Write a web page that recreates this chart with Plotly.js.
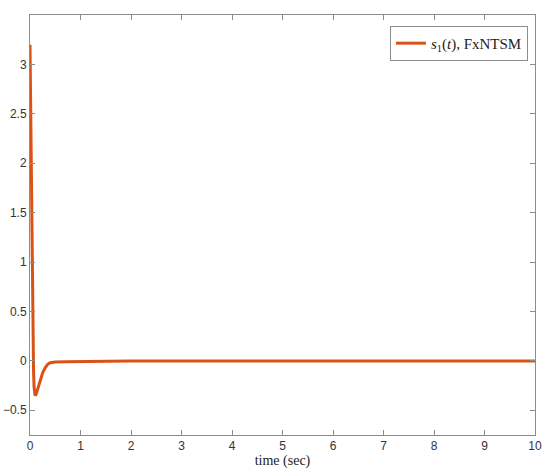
<!DOCTYPE html>
<html>
<head>
<script src="https://cdn.plot.ly/plotly-3.0.1.min.js"></script>
<style>body{margin:0;padding:0;background:#fff}#plot{width:550px;height:473px}</style>
</head>
<body>
<div id="plot"></div>
<script>
const time = [0, 0.01, 0.02, 0.03, 0.04, 0.05, 0.06, 0.07, 0.08, 0.09, 0.1, 0.12, 0.15, 0.2, 0.25, 0.3, 0.35, 0.4, 0.45, 0.5, 0.7, 1, 1.5, 2, 3, 5, 10];
const s1 = [3.2, 2.6, 2.0, 1.45, 0.95, 0.5, 0.15, -0.1, -0.26, -0.33, -0.35, -0.34, -0.29, -0.2, -0.12, -0.07, -0.035, -0.018, -0.014, -0.012, -0.008, -0.005, -0.003, -0.002, -0.001, 0, 0];
const xTicks = [0,1,2,3,4,5,6,7,8,9,10];
const yTicks = [-0.5,0,0.5,1,1.5,2,2.5,3];

const serif = 'Liberation Serif';
const sans = 'Liberation Sans';
const trace = {
  x: time, y: s1, type: 'scatter', mode: 'lines',
  line: {color: '#D95319', width: 3},
  name: '<i>s</i><sub>1</sub>(<i>t</i>), FxNTSM'
};
const axisCommon = {
  showline: true, mirror: 'ticks', linecolor: '#8c8c8c', linewidth: 1,
  ticks: 'inside', ticklen: 5, tickcolor: '#8c8c8c', showgrid: false, zeroline: false,
  tickfont: {family: sans, size: 12, color: '#333'}
};
const layout = {
  width: 550, height: 473,
  margin: {l: 30, r: 15, t: 15, b: 38},
  paper_bgcolor: '#fff', plot_bgcolor: '#fff',
  showlegend: true,
  legend: {x: 0.986, y: 0.974, xanchor: 'right', yanchor: 'top', bordercolor: '#8c8c8c', borderwidth: 1,
           itemwidth: 30, tracegroupgap: 0,
           bgcolor: '#fff', font: {family: serif, size: 15, color: '#222'}},
  xaxis: Object.assign({}, axisCommon, {range: [0, 10], tickvals: xTicks,
    title: {text: 'time (sec)', font: {family: serif, size: 14, color: '#222'}, standoff: 1}}),
  yaxis: Object.assign({}, axisCommon, {range: [-0.75, 3.5], tickvals: yTicks})
};
Plotly.newPlot('plot', [trace], layout, {displayModeBar: false, staticPlot: true});
</script>
</body>
</html>
